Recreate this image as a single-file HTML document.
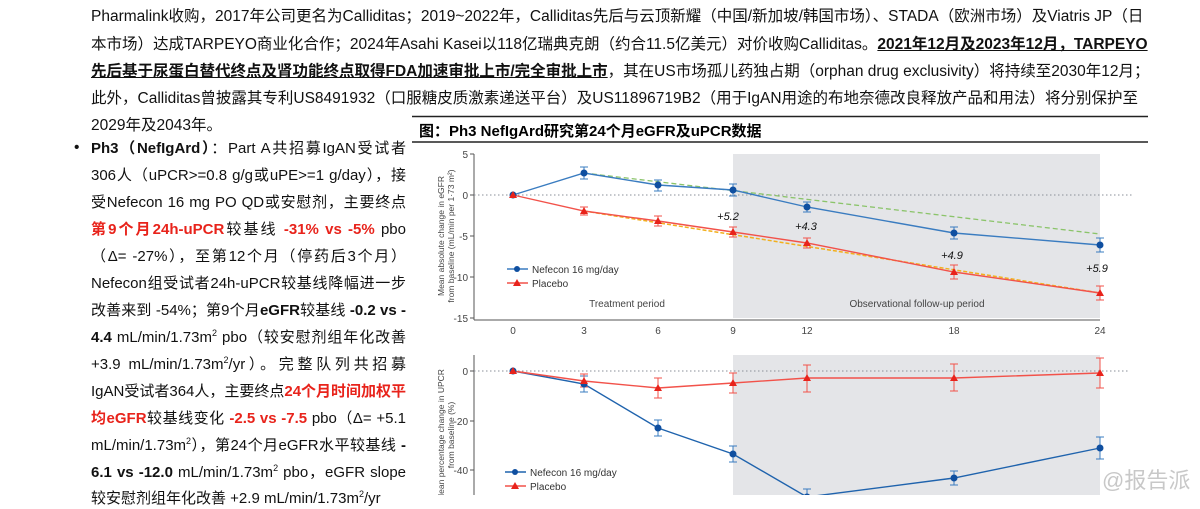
<!DOCTYPE html>
<html><head><meta charset="utf-8"><style>
body{margin:0;width:1200px;height:495px;overflow:hidden;background:#fff;position:relative;font-family:"Liberation Sans","Noto Sans CJK SC",sans-serif;color:#111}
.l{position:absolute;font-size:15.5px;white-space:nowrap;line-height:20px;text-align-last:justify;text-align:justify}
.t{left:91px;width:1036px}
.c{left:91px;width:315px;font-size:15px}
.r{color:#e8231b;font-weight:bold}
b{font-weight:bold}
u{text-decoration:underline}
sup{font-size:9px;line-height:0}
</style></head><body>
<div class="l t" style="top:7px">Pharmalink收购，2017年公司更名为Calliditas；2019~2022年，Calliditas先后与云顶新耀（中国/新加坡/韩国市场）、STADA（欧洲市场）及Viatris JP（日</div>
<div class="l t" style="top:35px">本市场）达成TARPEYO商业化合作；2024年Asahi Kasei以118亿瑞典克朗（约合11.5亿美元）对价收购Calliditas。<b><u>2021年12月及2023年12月，TARPEYO</u></b></div>
<div class="l t" style="top:62px"><b><u>先后基于尿蛋白替代终点及肾功能终点取得FDA加速审批上市/完全审批上市</u></b>，其在US市场孤儿药独占期（orphan drug exclusivity）将持续至2030年12月；</div>
<div class="l t" style="top:89px">此外，Calliditas曾披露其专利US8491932（口服糖皮质激素递送平台）及US11896719B2（用于IgAN用途的布地奈德改良释放产品和用法）将分别保护至</div>
<div class="l" style="top:116px;left:91px;text-align-last:left">2029年及2043年。</div>
<div class="l" style="top:138px;left:74px;text-align-last:left">•</div>
<div class="l c" style="top:139px"><b>Ph3（NefIgArd）</b>：Part A共招募IgAN受试者</div>
<div class="l c" style="top:166px">306人（uPCR&gt;=0.8 g/g或uPE&gt;=1 g/day），接</div>
<div class="l c" style="top:193px">受Nefecon 16 mg PO QD或安慰剂，主要终点</div>
<div class="l c" style="top:220px"><span class="r">第9个月24h-uPCR</span>较基线 <span class="r">-31% vs -5%</span> pbo</div>
<div class="l c" style="top:247px">（Δ= -27%），至第12个月（停药后3个月）</div>
<div class="l c" style="top:274px">Nefecon组受试者24h-uPCR较基线降幅进一步</div>
<div class="l c" style="top:301px">改善来到 -54%；第9个月<b>eGFR</b>较基线 <b>-0.2 vs -</b></div>
<div class="l c" style="top:328px"><b>4.4</b> mL/min/1.73m<sup>2</sup> pbo（较安慰剂组年化改善</div>
<div class="l c" style="top:355px">+3.9 mL/min/1.73m<sup>2</sup>/yr）。完整队列共招募</div>
<div class="l c" style="top:382px">IgAN受试者364人，主要终点<span class="r">24个月时间加权平</span></div>
<div class="l c" style="top:409px"><span class="r">均eGFR</span>较基线变化 <span class="r">-2.5 vs -7.5</span> pbo（Δ= +5.1</div>
<div class="l c" style="top:436px">mL/min/1.73m<sup>2</sup>），第24个月eGFR水平较基线 <b>-</b></div>
<div class="l c" style="top:463px"><b>6.1 vs -12.0</b> mL/min/1.73m<sup>2</sup> pbo，eGFR slope</div>
<div class="l c" style="top:489px;text-align-last:left">较安慰剂组年化改善 +2.9 mL/min/1.73m<sup>2</sup>/yr</div>

<svg style="position:absolute;left:0;top:0" width="1200" height="495" font-family="Liberation Sans, sans-serif">
<line x1="412" y1="116.5" x2="1148" y2="116.5" stroke="#222" stroke-width="1.5"/>
<text x="419" y="136" font-size="15" font-weight="bold" font-family="Liberation Sans, Noto Sans CJK SC, sans-serif">图：Ph3 NefIgArd研究第24个月eGFR及uPCR数据</text>
<line x1="412" y1="142" x2="1148" y2="142" stroke="#222" stroke-width="1.5"/>
<rect x="733" y="154" width="367" height="164" fill="#e4e5e8"/>
<line x1="474" y1="154" x2="474" y2="320" stroke="#555"/>
<line x1="474" y1="320" x2="1100" y2="320" stroke="#555"/>
<g stroke="#555"><line x1="470" y1="154" x2="474" y2="154"/><line x1="470" y1="195" x2="474" y2="195"/><line x1="470" y1="236" x2="474" y2="236"/><line x1="470" y1="277" x2="474" y2="277"/><line x1="470" y1="318" x2="474" y2="318"/></g>
<g font-size="10" fill="#444" text-anchor="end"><text x="468" y="158">5</text><text x="468" y="199">0</text><text x="468" y="240">-5</text><text x="468" y="281">-10</text><text x="468" y="322">-15</text></g>
<g font-size="10" fill="#444" text-anchor="middle"><text x="513" y="334">0</text><text x="584" y="334">3</text><text x="658" y="334">6</text><text x="733" y="334">9</text><text x="807" y="334">12</text><text x="954" y="334">18</text><text x="1100" y="334">24</text></g>
<line x1="474" y1="195" x2="1132" y2="195" stroke="#8a8f98" stroke-dasharray="1.5,2.5"/>
<text transform="translate(444,236) rotate(-90)" font-size="8.5" fill="#444" text-anchor="middle">Mean absolute change in eGFR</text>
<text transform="translate(454,236) rotate(-90)" font-size="8.5" fill="#444" text-anchor="middle">from baseline (mL/min per 1·73 m²)</text>
<text x="627" y="307" font-size="10" fill="#444" text-anchor="middle">Treatment period</text>
<text x="917" y="307" font-size="10" fill="#444" text-anchor="middle">Observational follow-up period</text>
<line x1="584" y1="173" x2="1100" y2="234" stroke="#8bc46a" stroke-dasharray="5,3" stroke-width="1.3"/>
<line x1="584" y1="211" x2="1100" y2="293" stroke="#f2b01e" stroke-dasharray="4,2" stroke-width="1.5"/>
<polyline points="513,195 584,173 658,185 733,190 807,207 954,233 1100,245" fill="none" stroke="#3a7cc0" stroke-width="1.4"/>
<polyline points="513,195 584,211 658,221 733,232 807,243 954,272 1100,293" fill="none" stroke="#f2524a" stroke-width="1.4"/>
<g stroke="#3a7cc0" stroke-width="1"><path d="M584,167v12M580,167h8M580,179h8M658,180v11M654,180h8M654,191h8M733,184v12M729,184h8M729,196h8M807,202v10M803,202h8M803,212h8M954,227v12M950,227h8M950,239h8M1100,238v14M1096,238h8M1096,252h8"/></g>
<g stroke="#f2524a" stroke-width="1"><path d="M584,207v8M580,207h8M580,215h8M658,216v10M654,216h8M654,226h8M733,227v10M729,227h8M729,237h8M807,238v10M803,238h8M803,248h8M954,265v14M950,265h8M950,279h8M1100,286v14M1096,286h8M1096,300h8"/></g>
<g fill="#0f4fa0"><circle cx="513" cy="195" r="3.5"/><circle cx="584" cy="173" r="3.5"/><circle cx="658" cy="185" r="3.5"/><circle cx="733" cy="190" r="3.5"/><circle cx="807" cy="207" r="3.5"/><circle cx="954" cy="233" r="3.5"/><circle cx="1100" cy="245" r="3.5"/></g>
<g fill="#e8231b"><path d="M513,191l4,7h-8z M584,207l4,7h-8z M658,217l4,7h-8z M733,228l4,7h-8z M807,239l4,7h-8z M954,268l4,7h-8z M1100,289l4,7h-8z"/></g>
<g font-size="11" font-style="italic" fill="#111" text-anchor="middle"><text x="728" y="220">+5.2</text><text x="806" y="230">+4.3</text><text x="952" y="259">+4.9</text><text x="1097" y="272">+5.9</text></g>
<line x1="507" y1="269" x2="528" y2="269" stroke="#3a7cc0" stroke-width="1.4"/><circle cx="517" cy="269" r="3" fill="#0f4fa0"/>
<text x="532" y="273" font-size="10" fill="#333">Nefecon 16 mg/day</text>
<line x1="507" y1="283" x2="528" y2="283" stroke="#f2524a" stroke-width="1.4"/><path d="M517,279l4,7h-8z" fill="#e8231b"/>
<text x="532" y="287" font-size="10" fill="#333">Placebo</text>
<rect x="733" y="355" width="367" height="140" fill="#e4e5e8"/>
<line x1="474" y1="355" x2="474" y2="495" stroke="#555"/>
<g stroke="#555"><line x1="470" y1="371" x2="474" y2="371"/><line x1="470" y1="421" x2="474" y2="421"/><line x1="470" y1="470" x2="474" y2="470"/></g>
<g font-size="10" fill="#444" text-anchor="end"><text x="468" y="375">0</text><text x="468" y="425">-20</text><text x="468" y="474">-40</text></g>
<line x1="474" y1="371" x2="1128" y2="371" stroke="#8a8f98" stroke-dasharray="1.5,2.5"/>
<text transform="translate(444,435) rotate(-90)" font-size="8.5" fill="#444" text-anchor="middle">Mean percentage change in UPCR</text>
<text transform="translate(454,435) rotate(-90)" font-size="8.5" fill="#444" text-anchor="middle">from baseline (%)</text>
<polyline points="513,371 584,384 658,428 733,454 807,497 954,478 1100,448" fill="none" stroke="#1f63ad" stroke-width="1.4"/>
<polyline points="513,371 584,381 658,388 733,383 807,378 954,378 1100,373" fill="none" stroke="#f2524a" stroke-width="1.4"/>
<g stroke="#3a7cc0"><path d="M584,376v16M580,376h8M580,392h8M658,420v16M654,420h8M654,436h8M733,446v16M729,446h8M729,462h8M954,471v14M950,471h8M950,485h8M1100,437v22M1096,437h8M1096,459h8M807,489v8M803,489h8"/></g>
<g stroke="#f2524a"><path d="M584,374v13M580,374h8M580,387h8M658,378v20M654,378h8M654,398h8M733,373v20M729,373h8M729,393h8M807,365v27M803,365h8M803,392h8M954,364v27M950,364h8M950,391h8M1100,358v30M1096,358h8M1096,388h8"/></g>
<g fill="#0f4fa0"><circle cx="513" cy="371" r="3.5"/><circle cx="584" cy="384" r="3.5"/><circle cx="658" cy="428" r="3.5"/><circle cx="733" cy="454" r="3.5"/><circle cx="807" cy="497" r="3.5"/><circle cx="954" cy="478" r="3.5"/><circle cx="1100" cy="448" r="3.5"/></g>
<g fill="#e8231b"><path d="M513,367l4,7h-8z M584,377l4,7h-8z M658,384l4,7h-8z M733,379l4,7h-8z M807,374l4,7h-8z M954,374l4,7h-8z M1100,369l4,7h-8z"/></g>
<line x1="505" y1="472" x2="526" y2="472" stroke="#1f63ad" stroke-width="1.4"/><circle cx="515" cy="472" r="3" fill="#0f4fa0"/>
<text x="530" y="476" font-size="10" fill="#333">Nefecon 16 mg/day</text>
<line x1="505" y1="486" x2="526" y2="486" stroke="#f2524a" stroke-width="1.4"/><path d="M515,482l4,7h-8z" fill="#e8231b"/>
<text x="530" y="490" font-size="10" fill="#333">Placebo</text>
<text x="1102" y="488" font-size="22" fill="#c8c8c8" font-family="Liberation Sans, Noto Sans CJK SC, sans-serif">@报告派</text>
</svg>
</body></html>
